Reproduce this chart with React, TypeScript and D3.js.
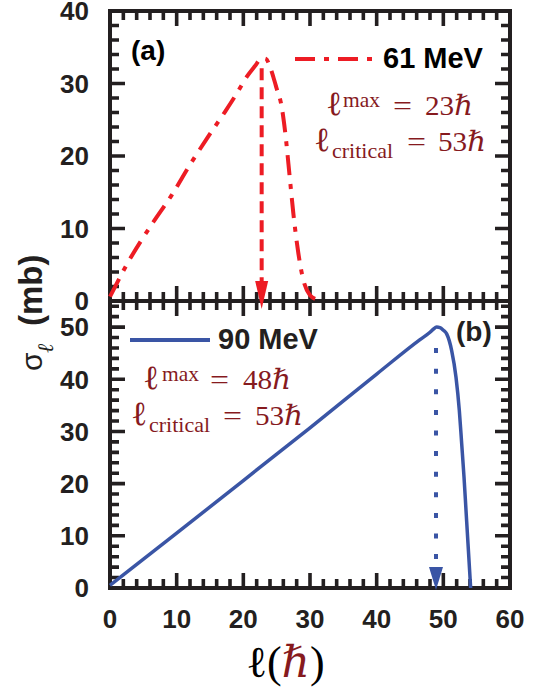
import React from "react";
import * as d3 from "d3";

// tick values
const xTicks = [0, 10, 20, 30, 40, 50, 60];
const topYTicks = [0, 10, 20, 30, 40];
const bottomYTicks = [0, 10, 20, 30, 40, 50];

// 61 MeV partial cross section
const l61 = [0, 2.5, 6.5, 9.25, 12, 14.75, 17.25, 19, 20.5, 21.75, 22.75, 23.4, 24, 24.5, 25, 25.75, 26.25, 27, 27.5, 28.25, 29, 30, 31, 32];
const s61 = [0.6, 5, 10.9, 14.6, 18.8, 22.7, 26.1, 28.6, 30.9, 32.4, 33.5, 33.4, 32.3, 30.9, 29.3, 26.8, 23.5, 16.7, 12.1, 6.6, 2.9, 0.8, 0.2, 0];

// 90 MeV partial cross section
const l90 = [0, 10, 20, 30, 40, 46.5, 48, 48.5, 49, 49.5, 50, 50.5, 51.25, 51.9, 52.4, 52.75, 53.1, 53.4, 53.7, 54.1];
const s90 = [0.5, 10.5, 20.6, 30.7, 41.0, 47.6, 49.0, 49.6, 50.0, 49.9, 49.4, 48.7, 45.5, 40.4, 34.0, 27.7, 21.3, 14.9, 8.5, 0];

// peak positions marked by arrows
const peak61 = [22.75, 33.5];
const peak90 = [48.9, 50.0];

const RED = "#ed1c24";
const BLUE = "#3a55a5";
const DARKRED = "#861a1e";
const INK = "#231f20";
const SANS = "Liberation Sans, Arial, sans-serif";
const SERIF = "Liberation Serif, DejaVu Serif, serif";

const x = d3.scaleLinear().domain([0, 60]).range([110, 510]);
const yTop = d3.scaleLinear().domain([0, 40]).range([301, 11]);
const yBot = d3.scaleLinear().domain([0, 55]).range([588, 301]);

const xAll = d3.range(0, 61, 2);

// inward tick marks on all four edges of a panel, as one path string
function tickPath(y: d3.ScaleLinear<number, number>, len: (v: number) => number) {
  const yb = y(0);
  const yt = y(y.domain()[1]);
  const yAll = d3.range(0, y.domain()[1] + 0.01, 2);
  let d = "";
  xAll.forEach((v) => {
    d += `M${x(v)},${yb}v${-len(v)}M${x(v)},${yt}v${len(v)}`;
  });
  yAll.forEach((v) => {
    d += `M${x(0)},${y(v)}h${len(v)}M${x(60)},${y(v)}h${-len(v)}`;
  });
  return d;
}

function Annot({ base, lmax, lcrit, xs }: { base: number; lmax: string; lcrit: string; xs: number[] }) {
  // xs: [ell1, max, eq1, val1, ell2, crit, eq2, val2]
  const b2 = base + 36;
  return (
    <g fontFamily={SERIF} fill={DARKRED}>
      <text x={xs[0]} y={base} fontSize={34}>ℓ</text>
      <text x={xs[1]} y={base - 8} fontSize={21} textLength={37} lengthAdjust="spacingAndGlyphs">max</text>
      <text x={xs[2]} y={base} fontSize={28} textLength={19} lengthAdjust="spacingAndGlyphs">=</text>
      <text x={xs[3]} y={base} fontSize={28} textLength={48} lengthAdjust="spacingAndGlyphs">
        {lmax}<tspan fontStyle="italic">ℏ</tspan>
      </text>
      <text x={xs[4]} y={b2} fontSize={34}>ℓ</text>
      <text x={xs[5]} y={b2 + 7} fontSize={21} textLength={61} lengthAdjust="spacingAndGlyphs">critical</text>
      <text x={xs[6]} y={b2} fontSize={28} textLength={19} lengthAdjust="spacingAndGlyphs">=</text>
      <text x={xs[7]} y={b2} fontSize={28} textLength={48} lengthAdjust="spacingAndGlyphs">
        {lcrit}<tspan fontStyle="italic">ℏ</tspan>
      </text>
    </g>
  );
}

export default function App() {
  const line = (yS: d3.ScaleLinear<number, number>) =>
    d3
      .line<[number, number]>()
      .x((d) => x(d[0]))
      .y((d) => yS(d[1]))
      .curve(d3.curveMonotoneX);
  const d61 = line(yTop)(l61.map((l, i) => [l, s61[i]] as [number, number]));
  const d90 = line(yBot)(l90.map((l, i) => [l, s90[i]] as [number, number]));
  const len = (v: number) => (v % 10 === 0 ? 15 : 9);
  const ticks = tickPath(yTop, len) + tickPath(yBot, len);

  const ax61 = x(peak61[0]);
  const ay61 = yTop(peak61[1]);
  const base61 = yTop(0);
  const ax90 = x(peak90[0]);
  const ay90 = yBot(peak90[1]);
  const base90 = yBot(0);

  return (
    <svg width={541} height={689} style={{ position: "absolute", left: 0, top: 0, background: "#fff" }}>
      {/* tick marks */}
      <path d={ticks} fill="none" stroke="#231f20" strokeWidth={3.6} strokeLinecap="butt" />

      {/* frames */}
      <rect x={x(0)} y={yTop(40)} width={x(60) - x(0)} height={yTop(0) - yTop(40)} fill="none" stroke={INK} strokeWidth={4} />
      <rect x={x(0)} y={yBot(55)} width={x(60) - x(0)} height={yBot(0) - yBot(55)} fill="none" stroke={INK} strokeWidth={4} />

      {/* y tick labels */}
      {topYTicks.map((v) => (
        <text key={"a" + v} x={89} y={yTop(v)} dy="0.36em" textAnchor="end" fontFamily={SANS} fontWeight="bold" fontSize={26} fill={INK}>
          {v}
        </text>
      ))}
      {bottomYTicks.map((v) => (
        <text key={"b" + v} x={89} y={yBot(v)} dy="0.36em" textAnchor="end" fontFamily={SANS} fontWeight="bold" fontSize={26} fill={INK}>
          {v}
        </text>
      ))}

      {/* curves */}
      <path d={d61 || ""} fill="none" stroke={RED} strokeWidth={4} strokeDasharray="20 9 5 9" />
      <path d={d90 || ""} fill="none" stroke={BLUE} strokeWidth={3.5} />

      {/* arrows */}
      <line x1={ax61} y1={ay61 + 10} x2={ax61} y2={base61 - 19} stroke={RED} strokeWidth={4} strokeDasharray="12 7" />
      <path d={`M${ax61 - 6.5},${base61 - 20}L${ax61 + 6.5},${base61 - 20}L${ax61},${base61 + 8}Z`} fill={RED} />
      <line x1={ax90} y1={ay90 + 21} x2={ax90} y2={base90 - 21} stroke={BLUE} strokeWidth={4} strokeDasharray="5 15.6" />
      <path d={`M${ax90 - 7},${base90 - 21}L${ax90 + 7},${base90 - 21}L${ax90},${base90 + 2}Z`} fill={BLUE} />

      {/* x tick labels */}
      {xTicks.map((v) => (
        <text key={"x" + v} x={x(v)} y={628} textAnchor="middle" fontFamily={SANS} fontWeight="bold" fontSize={26} fill={INK}>
          {v}
        </text>
      ))}

      {/* legends */}
      <line x1={295} y1={59} x2={374} y2={59} stroke={RED} strokeWidth={4} strokeDasharray="20 9 5 9" />
      <text x={383} y={68} fontFamily={SANS} fontWeight="bold" fontSize={29} fill="#000">61 MeV</text>
      <line x1={130} y1={340} x2={210} y2={340} stroke={BLUE} strokeWidth={4} />
      <text x={218} y={349} fontFamily={SANS} fontWeight="bold" fontSize={29} fill={INK}>90 MeV</text>

      <text x={131} y={60} fontFamily={SANS} fontWeight="bold" fontSize={28} fill="#000">(a)</text>
      <text x={456} y={341} fontFamily={SANS} fontWeight="bold" fontSize={28} fill={INK}>(b)</text>

      <Annot base={115} lmax="23" lcrit="53" xs={[326, 343, 393, 425, 314, 332, 407, 438]} />
      <Annot base={389} lmax="48" lcrit="53" xs={[143, 162, 210, 243, 131, 149, 223, 255]} />

      {/* y axis title */}
      <text transform="translate(42,371) rotate(-90)" fontFamily={SANS} fontSize={30} fill={INK}>σ</text>
      <text transform="translate(53,353) rotate(-90)" fontFamily={SERIF} fontSize={22} fontStyle="italic" fill={INK}>ℓ</text>
      <text transform="translate(42,326) rotate(-90)" fontFamily={SANS} fontWeight="bold" fontSize={33} fill={INK}>(mb)</text>

      {/* x axis title */}
      <text x={246} y={677} fontFamily={SERIF} fontSize={44} fill="#000">
        ℓ(<tspan fill={DARKRED} fontStyle="italic">ℏ</tspan>)
      </text>
    </svg>
  );
}
